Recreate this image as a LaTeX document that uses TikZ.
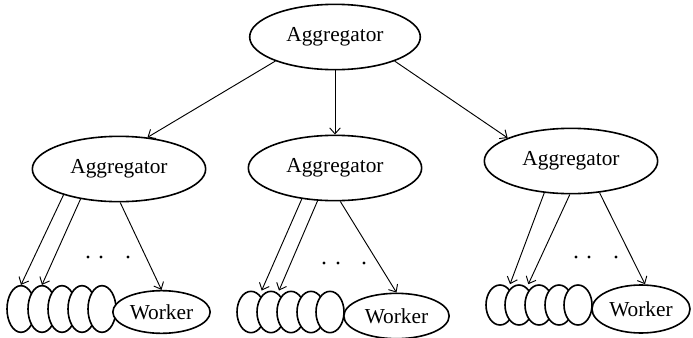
\documentclass[tikz,border=0pt]{standalone}
\usepackage{fontspec}
\setmainfont{Liberation Serif}
\usepackage{tikz}
\usetikzlibrary{arrows.meta,shapes.geometric}

\tikzset{
  aggnode/.style={ellipse, draw, line width=1.2pt, fill=white, inner sep=0pt,
    minimum width=130pt, minimum height=49pt, font=\fontsize{16}{19}\selectfont},
  worknode/.style={aggnode, minimum width=73pt, minimum height=32pt},
  slotnode/.style={ellipse, draw, line width=1.2pt, fill=white, inner sep=0pt,
    minimum width=21pt, minimum height=33pt},
  feed/.style={-{Straight Barb[length=4.5pt,width=8pt]}, line width=0.7pt},
}

\begin{document}
\begin{tikzpicture}[x=0.75pt,y=0.75pt]
    \useasboundingbox (0,0) rectangle (693,337);

    % Aggregators
    \node[aggnode, minimum width=128pt] (top) at (335,300) {Aggregator};
    \node[aggnode] (aggL) at (119,168) {Aggregator};
    \node[aggnode] (aggM) at (335,169) {Aggregator};
    \node[aggnode] (aggR) at (571,176) {Aggregator};

    % Left workers
    \node[slotnode, minimum height=35pt] (l1) at (21,28) {};
    \node[slotnode, minimum height=35pt] (l2) at (42,28) {};
    \node[slotnode, minimum height=35pt] (l3) at (62,28) {};
    \node[slotnode, minimum height=35pt] (l4) at (82,28) {};
    \node[slotnode, minimum height=35pt] (l5) at (102,28) {};
    \node[worknode] (lw) at (161.5,25) {Worker};

    % Middle workers
    \node[slotnode, minimum height=31pt] (m1) at (251,25) {};
    \node[slotnode, minimum height=31pt] (m2) at (271,25) {};
    \node[slotnode, minimum height=31pt] (m3) at (291,25) {};
    \node[slotnode, minimum height=31pt] (m4) at (311,25) {};
    \node[slotnode, minimum height=31pt] (m5) at (330,25) {};
    \node[worknode, minimum width=79pt, minimum height=34pt] (mw) at (396.5,21) {Worker};

    % Right workers
    \node[slotnode, minimum height=30pt] (r1) at (500,32) {};
    \node[slotnode, minimum height=30pt] (r2) at (519,32) {};
    \node[slotnode, minimum height=30pt] (r3) at (539,32) {};
    \node[slotnode, minimum height=30pt] (r4) at (559,32) {};
    \node[slotnode, minimum height=30pt] (r5) at (578,32) {};
    \node[worknode, minimum width=73.5pt, minimum height=36pt] (rw) at (641,28) {Worker};

    % Arrows from the root
    \draw[feed] (top.202) -- (aggL.48);
    \draw[feed] (top.south) -- (aggM.north);
    \draw[feed] (top.338) -- (aggR.160);

    % Arrows to the workers
    \draw[feed] (aggL.205) -- (l1.north);
    \draw[feed] (aggL.218) -- (l2.north);
    \draw[feed] (aggL.272) -- (lw.north);

    \draw[feed] (aggM.223) -- ([xshift=8pt]m1.north);
    \draw[feed] (aggM.242) -- ([xshift=6pt]m2.north);
    \draw[feed] (aggM.279) -- (mw.north);

    \draw[feed] (aggR.230) -- ([xshift=7.5pt]r1.north);
    \draw[feed] (aggR.268) -- ([xshift=7pt]r2.north);
    \draw[feed] (aggR.312) -- ([xshift=3pt]rw.north);

    % Dots
    \fill (88,80) circle (1.3pt);
    \fill (101,80) circle (1.3pt);
    \fill (128,80) circle (1.3pt);
    \fill (324,74) circle (1.3pt);
    \fill (338,74) circle (1.3pt);
    \fill (364,74) circle (1.3pt);
    \fill (576,80) circle (1.3pt);
    \fill (589,80) circle (1.3pt);
    \fill (616,80) circle (1.3pt);
\end{tikzpicture}
\end{document}
